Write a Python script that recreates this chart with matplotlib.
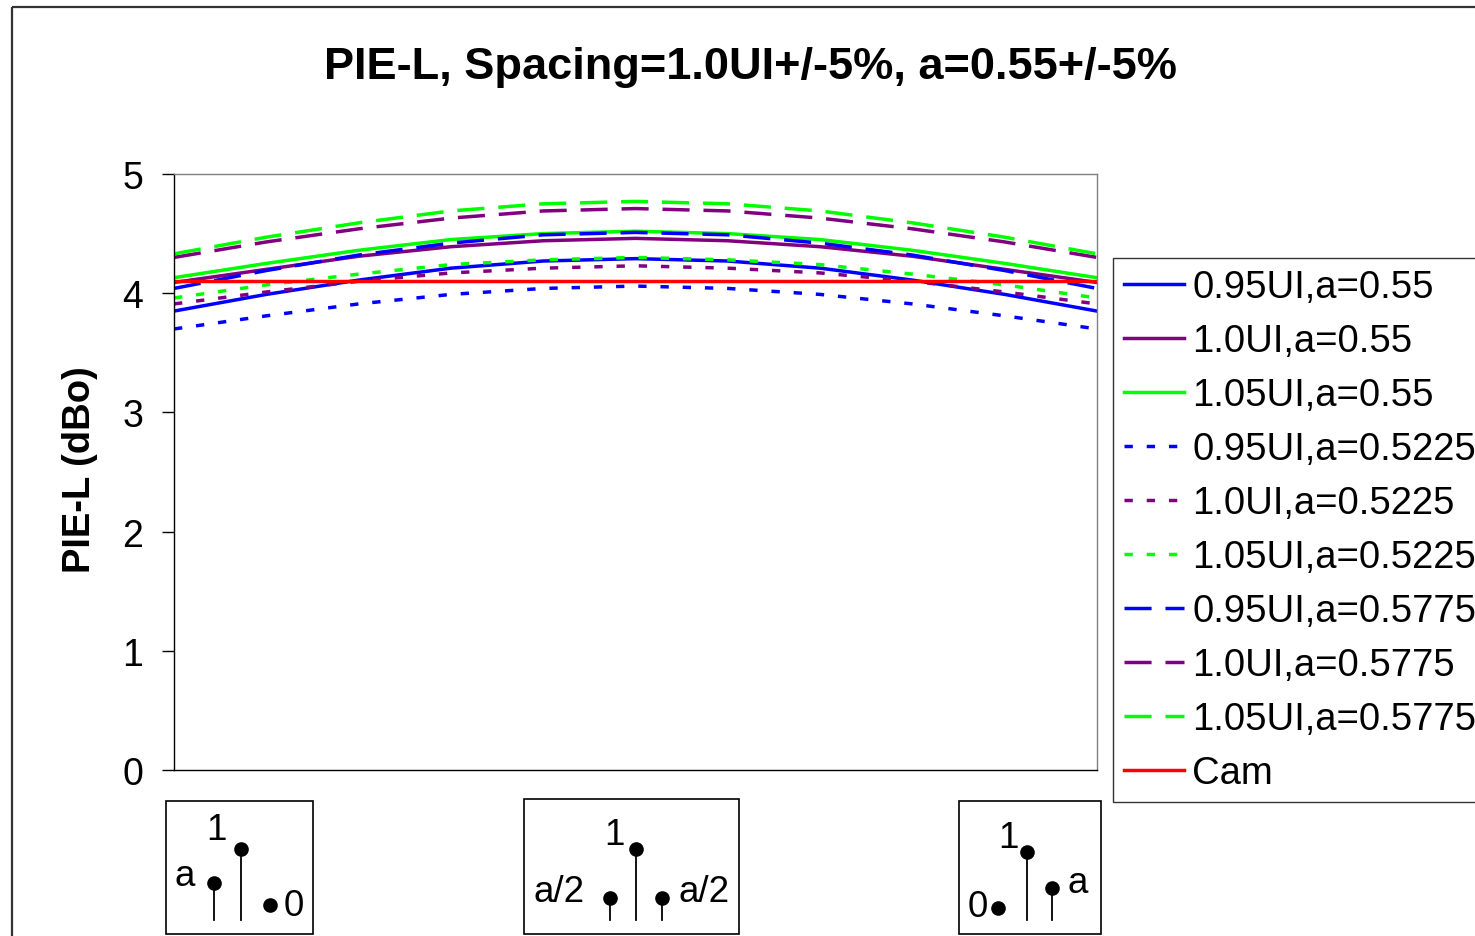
import matplotlib.pyplot as plt
from matplotlib.patches import Rectangle

plt.rcParams['font.family'] = ['Liberation Sans', 'DejaVu Sans']

# posiciones de muestra (eje x sin etiquetas)
x = [0, 0.1, 0.2, 0.3, 0.4, 0.5, 0.6, 0.7, 0.8, 0.9, 1.0]

ui095_a055 = [3.85, 3.99, 4.11, 4.21, 4.27, 4.29, 4.27, 4.21, 4.11, 3.99, 3.85]
ui100_a055 = [4.09, 4.20, 4.31, 4.39, 4.44, 4.46, 4.44, 4.39, 4.31, 4.20, 4.09]
ui105_a055 = [4.13, 4.25, 4.36, 4.45, 4.50, 4.52, 4.50, 4.45, 4.36, 4.25, 4.13]
ui095_a05225 = [3.70, 3.81, 3.91, 3.99, 4.04, 4.06, 4.04, 3.99, 3.91, 3.81, 3.70]
ui100_a05225 = [3.91, 4.01, 4.10, 4.17, 4.21, 4.23, 4.21, 4.17, 4.10, 4.01, 3.91]
ui105_a05225 = [3.96, 4.07, 4.16, 4.24, 4.28, 4.30, 4.28, 4.24, 4.16, 4.07, 3.96]
ui095_a05775 = [4.04, 4.19, 4.32, 4.42, 4.49, 4.51, 4.49, 4.42, 4.32, 4.19, 4.04]
ui100_a05775 = [4.30, 4.43, 4.54, 4.63, 4.69, 4.71, 4.69, 4.63, 4.54, 4.43, 4.30]
ui105_a05775 = [4.33, 4.47, 4.59, 4.69, 4.75, 4.77, 4.75, 4.69, 4.59, 4.47, 4.33]
cam = [4.10, 4.10, 4.10, 4.10, 4.10, 4.10, 4.10, 4.10, 4.10, 4.10, 4.10]

etiquetas = ['0.95UI,a=0.55', '1.0UI,a=0.55', '1.05UI,a=0.55',
             '0.95UI,a=0.5225', '1.0UI,a=0.5225', '1.05UI,a=0.5225',
             '0.95UI,a=0.5775', '1.0UI,a=0.5775', '1.05UI,a=0.5775', 'Cam']
y_ticks = [0, 1, 2, 3, 4, 5]

series = [ui095_a055, ui100_a055, ui105_a055,
          ui095_a05225, ui100_a05225, ui105_a05225,
          ui095_a05775, ui100_a05775, ui105_a05775, cam]
colores = ['#0000FF', '#800080', '#00FF00'] * 3 + ['#FF0000']
punteado = (0, (2.4, 4.0))
rayado = (0, (7.8, 4.0))
estilos = ['-'] * 3 + [punteado] * 3 + [rayado] * 3 + ['-']

W, H = 1475, 937
fig = plt.figure(figsize=(W / 100, H / 100), dpi=100)

# capa de fondo en pixeles para el marco y los diagramas
fondo = fig.add_axes([0, 0, 1, 1])
fondo.set_xlim(0, W)
fondo.set_ylim(H, 0)
fondo.axis('off')
fondo.add_patch(Rectangle((12, 8), W, H, fill=False, edgecolor='#333333', lw=1.6))

ax = fig.add_axes([174 / W, 1 - 771 / H, 923 / W, 596 / H])
for serie, color, estilo, etiqueta in zip(series, colores, estilos, etiquetas):
    ax.plot(x, serie, color=color, linestyle=estilo, lw=2.5, label=etiqueta)

ax.set_xlim(0, 1)
ax.set_ylim(0, 5)
ax.set_yticks(y_ticks)
ax.set_xticks([])
ax.tick_params(axis='y', labelsize=27, length=9, width=1, pad=13)
ax.spines['left'].set_color('black')
ax.spines['bottom'].set_color('black')
ax.spines['top'].set_color('#808080')
ax.spines['right'].set_color('#808080')
for s in ax.spines.values():
    s.set_linewidth(1)

fig.text(751 / W, 1 - 67 / H, 'PIE-L, Spacing=1.0UI+/-5%, a=0.55+/-5%',
         ha='center', va='center', fontsize=32.5, fontweight='bold')
fig.text(80 / W, 1 - 470 / H, 'PIE-L (dBo)', rotation=90,
         ha='center', va='center', fontsize=27.5, fontweight='bold')

leg = ax.legend(loc='upper left', bbox_to_anchor=(1113 / W, 1 - 259 / H),
                bbox_transform=fig.transFigure, fontsize=27.5, frameon=True,
                fancybox=False, borderaxespad=0, borderpad=0.3,
                labelspacing=0.47, handlelength=1.57, handletextpad=0.2)
leg.get_frame().set_edgecolor('black')
leg.get_frame().set_linewidth(1)


# diagramas de pulsos debajo del eje
def caja(x0, x1, y0, y1):
    fondo.add_patch(Rectangle((x0, y0), x1 - x0, y1 - y0, fill=False,
                              edgecolor='black', lw=1.2))


def tallo(xs, ytop, ybase=921, punto=True):
    fondo.plot([xs, xs], [ytop, ybase], color='black', lw=1.3)
    if punto:
        fondo.plot(xs, ytop, 'o', color='black', ms=9.5)


def texto(xt, yt, s):
    fondo.text(xt, yt, s, ha='center', va='center', fontsize=26.5)


caja(166, 313, 802, 935)
texto(185, 877, 'a')
tallo(214, 884)
texto(216, 831, '1')
tallo(241, 850)
fondo.plot(270, 906, 'o', color='black', ms=9.5)
texto(294, 907, '0')

caja(524, 739, 800, 935)
texto(614, 836, '1')
tallo(636, 850)
tallo(610, 899)
tallo(662, 899)
texto(559, 893, 'a/2')
texto(704, 893, 'a/2')

caja(959, 1101, 802, 935)
texto(1008, 839, '1')
tallo(1027, 853)
texto(978, 908, '0')
fondo.plot(998, 909, 'o', color='black', ms=9.5)
tallo(1052, 889)
texto(1078, 884, 'a')

fig.savefig('out.png', dpi=100)
